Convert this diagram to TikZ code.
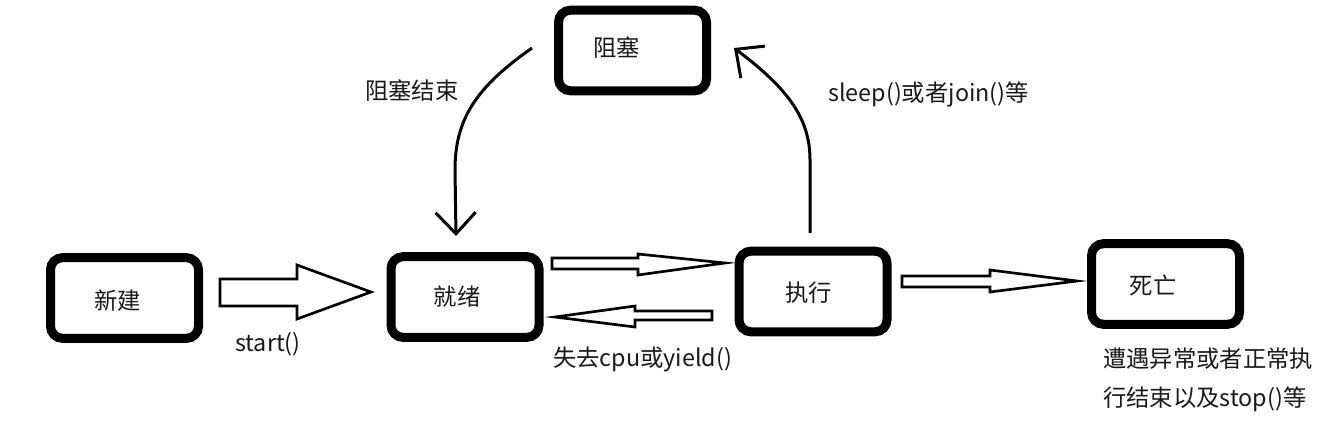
\documentclass[tikz,border=0pt]{standalone}
\usepackage{fontspec}
\setmainfont{Noto Sans CJK SC}
\usetikzlibrary{arrows.meta}
\begin{document}
\begin{tikzpicture}[x=0.75pt,y=-0.75pt,
  state/.style={draw,line width=6.75pt,rounded corners=9pt,minimum width=111pt,minimum height=60.5pt,inner sep=0pt},
  txt/.style={font=\fontsize{17.5pt}{21pt}\selectfont,inner sep=0pt,text=black!90},
  hollow/.style={draw,line width=2pt,fill=white,line join=miter},
  curved/.style={line width=2.25pt,-{Straight Barb[length=16pt,width=30pt,line width=2.25pt]}}]
\useasboundingbox (0,0) rectangle (1341,428);
% states
\node[state] (xinjian) at (124.5,298) {};
\node[state] (jiuxu) at (465,297) {};
\node[state] (zhixing) at (813,291.5) {};
\node[state] (siwang) at (1165.5,284) {};
\node[state] (zuse) at (632.5,50.5) {};
% state texts
\node[txt,anchor=base] (txinjian) at (117.5,309) {新建};
\node[txt,anchor=base] (tjiuxu) at (457,305) {就绪};
\node[txt,anchor=base] (tzhixing) at (808.5,301) {执行};
\node[txt,anchor=base] (tsiwang) at (1153,294) {死亡};
\node[txt,anchor=base] (tzuse) at (616.5,57) {阻塞};
% hollow arrows
\draw[hollow] (220,279) -- (297,279) -- (297,265) -- (371,292) -- (297,319) -- (297,306) -- (220,306) -- cycle;
\draw[hollow] (552,258) -- (638,258) -- (638,254) -- (725,263) -- (638,275) -- (638,269) -- (552,269) -- cycle;
\draw[hollow] (712,311) -- (635,311) -- (635,306) -- (555,317) -- (635,327) -- (635,320) -- (712,320) -- cycle;
\draw[hollow] (902,276) -- (990,276) -- (990,270) -- (1077,281) -- (990,292) -- (990,287) -- (902,287) -- cycle;
% curved arrows
\coordinate (a1) at (532,48);
\coordinate (a2) at (456,236);
\coordinate (b1) at (810,233);
\coordinate (b2) at (734,48);
\draw[curved] (a1) .. controls (475,88) and (455,120) .. (455,170) -- (a2);
\draw[curved] (b1) -- (810,160) .. controls (810,120) and (790,90) .. (b2);
% labels
\node[txt,anchor=base west] (lstart) at (235,351) {start()};
\node[txt,anchor=base west] (lyield) at (553,366) {失去cpu或yield()};
\node[txt,anchor=base west] (lend) at (365,99) {阻塞结束};
\node[txt,anchor=base west] (lsleep) at (828,101) {sleep()或者join()等};
\node[txt,anchor=base west] (ldie1) at (1103,367) {遭遇异常或者正常执};
\node[txt,anchor=base west] (ldie2) at (1103,406) {行结束以及stop()等};
\end{tikzpicture}
\end{document}
